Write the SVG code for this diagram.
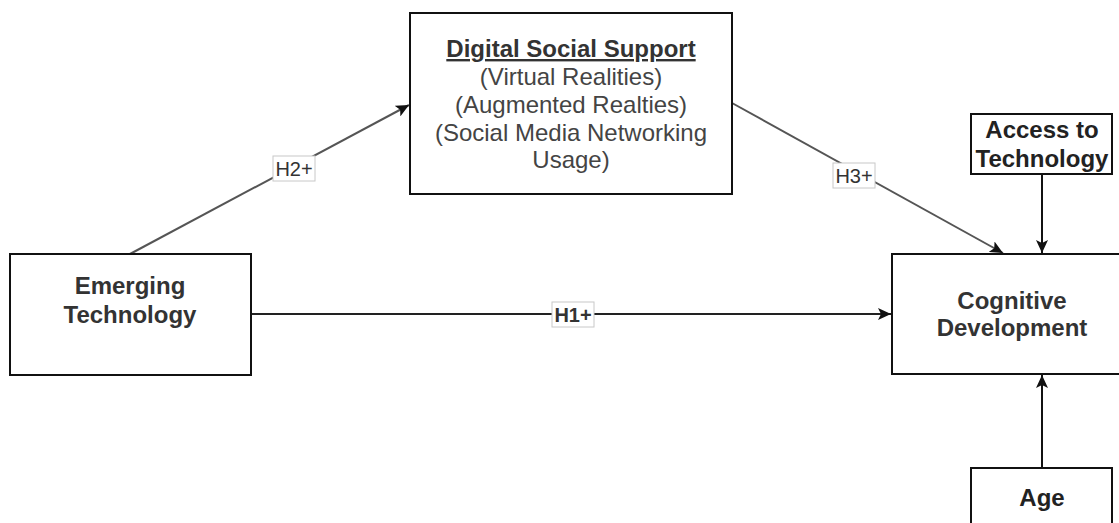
<svg xmlns="http://www.w3.org/2000/svg" width="1119" height="523" viewBox="0 0 1119 523">
<style>
.box{fill:#fff;stroke:#111;stroke-width:2}
.t{font-family:"Liberation Sans",Arial,sans-serif;font-size:24px;text-anchor:middle}
.b{font-weight:bold}
.sub{fill:#444}
.lbl{fill:#fff;stroke:#c8c8c8;stroke-width:1}
.lt{font-family:"Liberation Sans",Arial,sans-serif;font-size:20px;text-anchor:middle;fill:#333}
.c{fill:none;stroke-width:2}
</style>
<defs>
<marker id="ah" markerUnits="userSpaceOnUse" markerWidth="14" markerHeight="12" refX="13" refY="6" orient="auto">
<path d="M0,0 L13,6 L0,12 L3,6 z" fill="#111"/>
</marker>
</defs>
<rect width="1119" height="523" fill="#fff"/>
<g id="connectors">
<g id="e-h2">
<line class="c" x1="130" y1="254" x2="409" y2="105" stroke="#555" marker-end="url(#ah)"/>
<rect class="lbl" x="273" y="156" width="42" height="25"/>
<text class="lt" x="294" y="176">H2+</text>
</g>
<g id="e-h3">
<line class="c" x1="732" y1="103" x2="1003" y2="253" stroke="#555" marker-end="url(#ah)"/>
<rect class="lbl" x="833" y="163" width="42" height="25"/>
<text class="lt" x="854" y="183">H3+</text>
</g>
<g id="e-h1">
<line class="c" x1="251" y1="314" x2="891" y2="314" stroke="#222" marker-end="url(#ah)"/>
<rect class="lbl" x="552" y="302" width="42" height="25"/>
<text class="lt b" x="573" y="322" fill="#555">H1+</text>
</g>
<line id="e-access" class="c" x1="1042" y1="174" x2="1042" y2="253" stroke="#111" marker-end="url(#ah)"/>
<line id="e-age" class="c" x1="1042" y1="468" x2="1042" y2="375" stroke="#111" marker-end="url(#ah)"/>
</g>
<g id="dss">
<rect class="box" x="410" y="13" width="322" height="181"/>
<text class="t b" x="571" y="57" fill="#333" text-decoration="underline">Digital Social Support</text>
<text class="t sub" x="571" y="85">(Virtual Realities)</text>
<text class="t sub" x="571" y="113">(Augmented Realties)</text>
<text class="t sub" x="571" y="141">(Social Media Networking</text>
<text class="t sub" x="571" y="168">Usage)</text>
</g>
<g id="emerging">
<rect class="box" x="10" y="254" width="241" height="121"/>
<text class="t b" x="130" y="294" fill="#333">Emerging</text>
<text class="t b" x="130" y="323" fill="#333">Technology</text>
</g>
<g id="cognitive">
<rect class="box" x="892" y="254" width="240" height="120"/>
<text class="t b" x="1012" y="309" fill="#333">Cognitive</text>
<text class="t b" x="1012" y="336" fill="#333">Development</text>
</g>
<g id="access">
<rect class="box" x="971" y="114" width="141" height="60"/>
<text class="t b" x="1042" y="138" fill="#222">Access to</text>
<text class="t b" x="1042" y="167" fill="#222">Technology</text>
</g>
<g id="age">
<rect class="box" x="971" y="468" width="141" height="70"/>
<text class="t b" x="1042" y="506" fill="#222">Age</text>
</g>
</svg>
